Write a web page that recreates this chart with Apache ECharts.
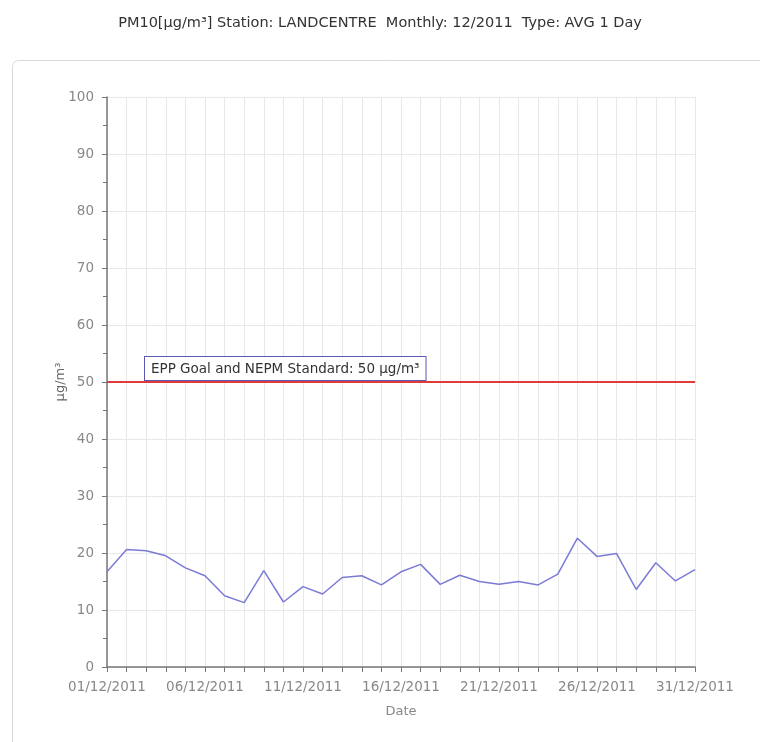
<!DOCTYPE html>
<html>
<head>
<meta charset="utf-8">
<script src="https://cdn.jsdelivr.net/npm/echarts@6/dist/echarts.min.js"></script>
<style>
  html, body { margin: 0; padding: 0; background: #fff; }
  #chart { width: 760px; height: 742px; }
</style>
</head>
<body>
<div id="chart"></div>
<script>
// daily PM10 averages, December 2011
const dates = [
  '01/12/2011', '02/12/2011', '03/12/2011', '04/12/2011', '05/12/2011', '06/12/2011',
  '07/12/2011', '08/12/2011', '09/12/2011', '10/12/2011', '11/12/2011', '12/12/2011',
  '13/12/2011', '14/12/2011', '15/12/2011', '16/12/2011', '17/12/2011', '18/12/2011',
  '19/12/2011', '20/12/2011', '21/12/2011', '22/12/2011', '23/12/2011', '24/12/2011',
  '25/12/2011', '26/12/2011', '27/12/2011', '28/12/2011', '29/12/2011', '30/12/2011',
  '31/12/2011'
]
const pm10 = [
  16.7, 20.6, 20.4, 19.5, 17.4, 16.0, 12.5, 11.3, 16.9, 11.4, 14.1, 12.8,
  15.7, 16.0, 14.4, 16.7, 18.0, 14.5, 16.1, 15.0, 14.5, 15.0, 14.4, 16.3,
  22.6, 19.4, 19.9, 13.6, 18.3, 15.1, 17.1
]
const standard = 50
const standardLabel = 'EPP Goal and NEPM Standard: 50 μg/m³'
const yMin = 0
const yMax = 100
const yStep = 10

const font = 'DejaVu Sans'
const chart = echarts.init(document.getElementById('chart'))

const option = {
  animation: false,
  title: {
    text: 'PM10[μg/m³] Station: LANDCENTRE  Monthly: 12/2011  Type: AVG 1 Day',
    left: 'center',
    top: 11,
    textStyle: { fontFamily: font, fontSize: 14.5, fontWeight: 'normal', color: '#333' }
  },
  graphic: [
    {
      type: 'rect',
      z: -10,
      shape: { x: 12.5, y: 60.5, width: 800, height: 720, r: 6 },
      style: { fill: '#fff', stroke: '#d8d8d8', lineWidth: 1 }
    }
  ],
  grid: { left: 107, right: 65, top: 97, bottom: 75 },
  xAxis: {
    type: 'category',
    data: dates,
    boundaryGap: false,
    name: 'Date',
    nameLocation: 'middle',
    nameGap: 38,
    nameTextStyle: { fontFamily: font, fontSize: 13, color: '#888' },
    axisLine: { lineStyle: { color: '#777', width: 1.5 } },
    axisTick: { show: true, interval: 0, length: 5, lineStyle: { color: '#777' } },
    axisLabel: { interval: 4, fontFamily: font, fontSize: 13.5, color: '#888', margin: 13 },
    splitLine: { show: true, interval: 0, lineStyle: { color: '#e8e8e8' } }
  },
  yAxis: {
    type: 'value',
    min: yMin,
    max: yMax,
    interval: yStep,
    name: 'μg/m³',
    nameLocation: 'middle',
    nameGap: 40,
    nameMoveOverlap: false,
    nameTextStyle: { fontFamily: font, fontSize: 13, color: '#666' },
    axisLine: { show: true, lineStyle: { color: '#777', width: 1.5 } },
    axisTick: { show: true, length: 5, lineStyle: { color: '#777' } },
    minorTick: { show: true, splitNumber: 2, length: 4, lineStyle: { color: '#777' } },
    axisLabel: { fontFamily: font, fontSize: 13.5, color: '#888', margin: 13 },
    splitLine: { show: true, lineStyle: { color: '#e8e8e8' } }
  },
  series: [
    {
      name: 'PM10',
      type: 'line',
      data: pm10,
      symbol: 'none',
      lineStyle: { color: '#7b7bd6', width: 1.5 },
      markLine: {
        silent: true,
        symbol: 'none',
        data: [{ yAxis: standard }],
        lineStyle: { color: '#e03a3a', width: 2, type: 'solid' },
        label: {
          show: true,
          position: 'insideStartTop',
          distance: [38, 2],
          formatter: standardLabel,
          fontFamily: font,
          fontSize: 13.5,
          color: '#333',
          backgroundColor: '#fff',
          borderColor: '#5a5ab4',
          borderWidth: 1,
          padding: [5, 6, 4, 6]
        }
      }
    }
  ]
}

chart.setOption(option)
</script>
</body>
</html>
